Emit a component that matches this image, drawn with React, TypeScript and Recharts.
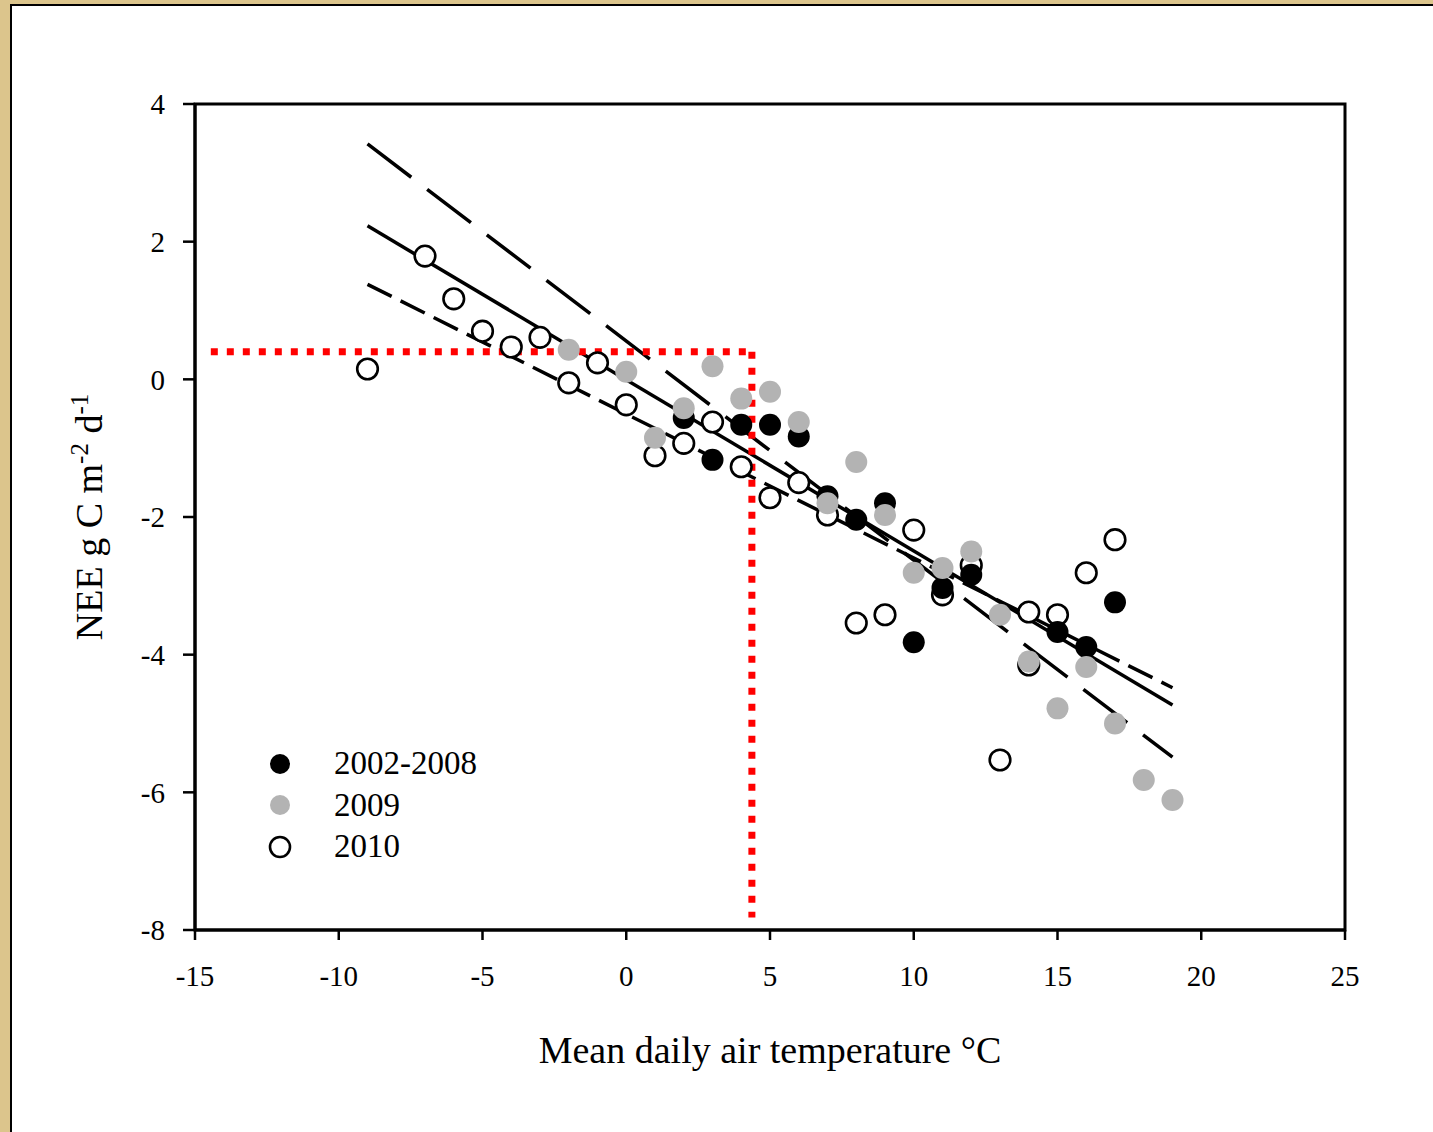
import { ComposedChart, Scatter, Line, XAxis, YAxis, ReferenceArea, ReferenceLine } from "recharts";

// mean daily air temperature (°C) vs NEE (g C m-2 d-1)
const temp0208 = [2, 3, 4, 5, 6, 7, 8, 9, 10, 11, 12, 15, 16, 17];
const nee0208 = [-0.56, -1.17, -0.66, -0.66, -0.83, -1.7, -2.04, -1.8, -3.82, -3.03, -2.84, -3.67, -3.89, -3.24];

const temp2009 = [-2, 0, 1, 2, 3, 4, 5, 6, 7, 8, 9, 10, 11, 12, 13, 14, 15, 16, 17, 18, 19];
const nee2009 = [0.43, 0.11, -0.85, -0.42, 0.19, -0.28, -0.18, -0.62, -1.8, -1.2, -1.97, -2.81, -2.74, -2.5, -3.42, -4.1, -4.78, -4.18, -5.0, -5.82, -6.11];

const temp2010 = [-9, -7, -6, -5, -4, -3, -2, -1, 0, 1, 2, 3, 4, 5, 6, 7, 8, 9, 10, 11, 12, 13, 14, 14, 15, 16, 17];
const nee2010 = [0.15, 1.79, 1.17, 0.7, 0.47, 0.61, -0.05, 0.24, -0.37, -1.11, -0.93, -0.62, -1.27, -1.72, -1.5, -1.97, -3.54, -3.42, -2.19, -3.13, -2.7, -5.53, -3.38, -4.15, -3.42, -2.81, -2.33];

// regression line and its two dashed bounds, drawn between the end temperatures
const fitTemp = [-9, 19];
const fitMid = [2.23, -4.73];
const fitUpper = [3.42, -5.49];
const fitLower = [1.38, -4.48];

// red threshold guides
const guideNEE = 0.4;
const guideTemp = 4.37;
const guideLeft = -14.45;
const guideBottom = -7.82;

const xTicks = [-15, -10, -5, 0, 5, 10, 15, 20, 25];
const yTicks = [-8, -6, -4, -2, 0, 2, 4];

const zip = (xs: number[], ys: number[]) => xs.map((x, i) => ({ x, y: ys[i] }));

const GRAY = "#b3b3b3";
const FONT = "'Liberation Serif', 'Times New Roman', serif";

const dot = (fill: string, stroke: string) => (p: any) => (
  <circle cx={p.cx} cy={p.cy} r={stroke === "none" ? 11 : 10.3} fill={fill} stroke={stroke} strokeWidth={stroke === "none" ? 0 : 2.6} />
);

const YLabel = ({ viewBox }: any) => {
  const cx = viewBox.x - 13;
  const cy = viewBox.y + viewBox.height / 2;
  return (
    <text x={cx} y={cy} transform={`rotate(-90, ${cx}, ${cy})`} textAnchor="middle" fontFamily={FONT} fontSize={38} fill="#000">
      NEE g C m<tspan dy={-14} fontSize={25}>-2</tspan>
      <tspan dy={14}> d</tspan>
      <tspan dy={-14} fontSize={25}>-1</tspan>
    </text>
  );
};

const XLabel = ({ viewBox }: any) => (
  <text x={viewBox.x + viewBox.width / 2} y={viewBox.y + 133} textAnchor="middle" fontFamily={FONT} fontSize={38} fill="#000">
    Mean daily air temperature °C
  </text>
);

const legendItems = [
  { name: "2002-2008", fill: "#000", stroke: "none" },
  { name: "2009", fill: GRAY, stroke: "none" },
  { name: "2010", fill: "#fff", stroke: "#000" },
];

const LegendBox = () => (
  <div style={{ position: "absolute", left: 268, top: 743, fontFamily: FONT, fontSize: 33, color: "#000" }}>
    {legendItems.map((it) => (
      <div key={it.name} style={{ display: "flex", alignItems: "center", height: 41.5 }}>
        <svg width={24} height={24} style={{ marginRight: 42 }}>
          <circle cx={12} cy={12} r={10} fill={it.fill} stroke={it.stroke} strokeWidth={it.stroke === "none" ? 0 : 2.6} />
        </svg>
        <span>{it.name}</span>
      </div>
    ))}
  </div>
);

export default function App() {
  return (
    <div style={{ position: "absolute", left: 0, top: 0, width: 1433, height: 1132, background: "#dcc58c", overflow: "hidden" }}>
      <div style={{ position: "absolute", left: 10, top: 4, width: 1423, height: 1128, background: "#fff", borderLeft: "2px solid #000", borderTop: "2px solid #000" }} />
      <div style={{ position: "absolute", left: 0, top: 0 }}>
        <ComposedChart width={1433} height={1132} margin={{ top: 104, right: 88, bottom: 142, left: 115 }}>
          <XAxis
            type="number"
            dataKey="x"
            domain={[-15, 25]}
            ticks={xTicks}
            allowDataOverflow
            height={60}
            tickSize={10}
            tickMargin={25}
            axisLine={{ stroke: "#000", strokeWidth: 3 }}
            tickLine={{ stroke: "#000", strokeWidth: 2.5 }}
            tick={{ fill: "#000", fontFamily: FONT, fontSize: 29 }}
            label={<XLabel />}
          />
          <YAxis
            type="number"
            dataKey="y"
            domain={[-8, 4]}
            ticks={yTicks}
            allowDataOverflow
            width={80}
            tickSize={12}
            tickMargin={18}
            axisLine={{ stroke: "#000", strokeWidth: 3 }}
            tickLine={{ stroke: "#000", strokeWidth: 2.5 }}
            tick={{ fill: "#000", fontFamily: FONT, fontSize: 29 }}
            label={<YLabel />}
          />
          <ReferenceArea x1={-15} x2={25} y1={-8} y2={4} fill="none" stroke="#000" strokeWidth={3} ifOverflow="visible" />
          <Scatter data={zip(temp2010, nee2010)} shape={dot("#fff", "#000")} isAnimationActive={false} />
          <Scatter data={zip(temp0208, nee0208)} shape={dot("#000", "none")} isAnimationActive={false} />
          <Scatter data={zip(temp2009, nee2009)} shape={dot(GRAY, "none")} isAnimationActive={false} />
          <Line data={zip(fitTemp, fitUpper)} dataKey="y" stroke="#000" strokeWidth={3.5} strokeDasharray="55 20" dot={false} isAnimationActive={false} />
          <Line data={zip(fitTemp, fitLower)} dataKey="y" stroke="#000" strokeWidth={3.5} strokeDasharray="27 10" dot={false} isAnimationActive={false} />
          <Line data={zip(fitTemp, fitMid)} dataKey="y" stroke="#000" strokeWidth={3.5} dot={false} isAnimationActive={false} />
          <ReferenceLine segment={[{ x: guideLeft, y: guideNEE }, { x: guideTemp, y: guideNEE }]} stroke="#ff0000" strokeWidth={7} strokeDasharray="7 9" />
          <ReferenceLine segment={[{ x: guideTemp, y: guideNEE }, { x: guideTemp, y: guideBottom }]} stroke="#ff0000" strokeWidth={7} strokeDasharray="7 9" />
        </ComposedChart>
      </div>
      <LegendBox />
    </div>
  );
}
